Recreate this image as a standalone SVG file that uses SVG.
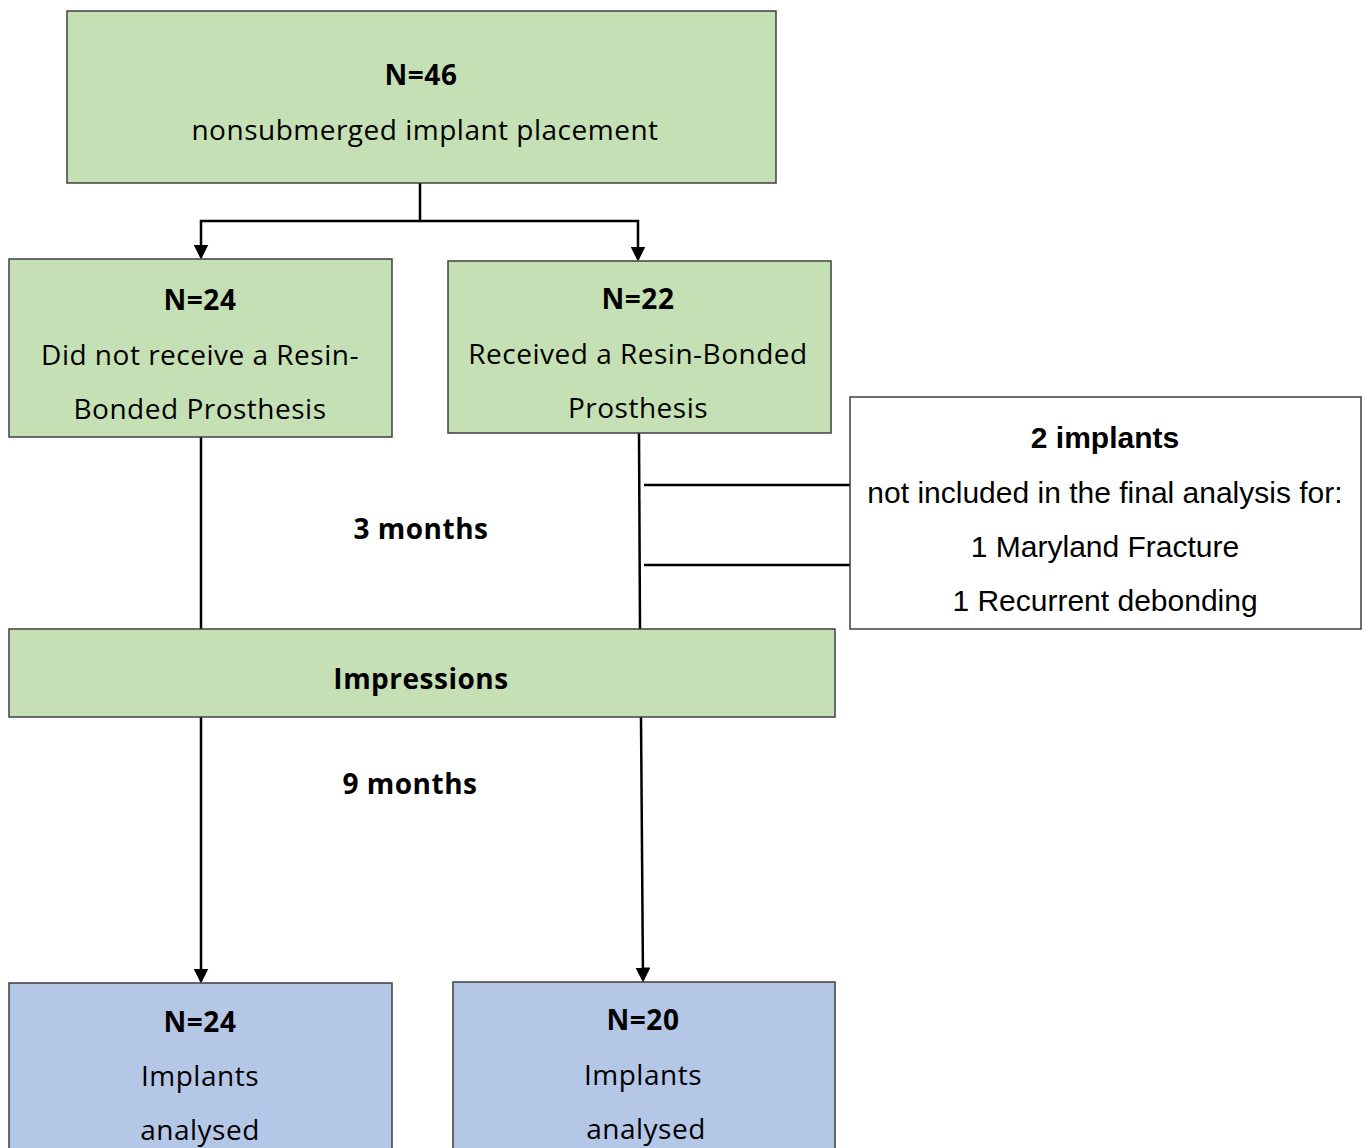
<svg xmlns="http://www.w3.org/2000/svg" width="1365" height="1148" viewBox="0 0 1365 1148">
<style>
.g{fill:#c5e0b4;stroke:#3f3f3f;stroke-width:1.5}
.b{fill:#b4c7e7;stroke:#3f3f3f;stroke-width:1.5}
.w{fill:#ffffff;stroke:#3f3f3f;stroke-width:1.5}
.t{font-family:"Open Sans","Liberation Sans",sans-serif;font-size:28px;letter-spacing:0.5px;fill:#000;text-anchor:middle}
.a{font-family:"Liberation Sans",Arial,sans-serif;font-size:30px;fill:#000;text-anchor:middle}
.bd{font-weight:bold}
.c{fill:none;stroke:#000;stroke-width:2.5}
</style>
<defs>
<marker id="ah" markerWidth="6" markerHeight="6" refX="5" refY="3" orient="auto" markerUnits="strokeWidth">
<path d="M0,0 L6,3 L0,6 z" fill="#000"/>
</marker>
</defs>
<rect width="1365" height="1148" fill="#fff"/>
<g id="connectors">
<path class="c" d="M420,183 V221 H201 V257" marker-end="url(#ah)"/>
<path class="c" d="M420,221 H638 V259" marker-end="url(#ah)"/>
<path class="c" d="M201,437 V629"/>
<path class="c" d="M639,433 L640,629"/>
<path class="c" d="M644,485 H850"/>
<path class="c" d="M644,565 H850"/>
<path class="c" d="M201,717 V981" marker-end="url(#ah)"/>
<path class="c" d="M641,717 L643,980" marker-end="url(#ah)"/>
</g>
<g id="n46">
<rect class="g" x="67" y="11" width="709" height="172"/>
<text class="t bd" x="421" y="85">N=46</text>
<text class="t" x="425" y="140">nonsubmerged implant placement</text>
</g>
<g id="n24a">
<rect class="g" x="9" y="259" width="383" height="178"/>
<text class="t bd" x="200" y="310">N=24</text>
<text class="t" x="200" y="365">Did not receive a Resin-</text>
<text class="t" x="200" y="419">Bonded Prosthesis</text>
</g>
<g id="n22">
<rect class="g" x="448" y="261" width="383" height="172"/>
<text class="t bd" x="638" y="309">N=22</text>
<text class="t" x="638" y="364">Received a Resin-Bonded</text>
<text class="t" x="638" y="418">Prosthesis</text>
</g>
<g id="excluded">
<rect class="w" x="850" y="397" width="511" height="232"/>
<text class="a bd" x="1105" y="448">2 implants</text>
<text class="a" x="1105" y="503">not included in the final analysis for:</text>
<text class="a" x="1105" y="557">1 Maryland Fracture</text>
<text class="a" x="1105" y="611">1 Recurrent debonding</text>
</g>
<g id="m3">
<text class="t bd" x="421" y="539">3 months</text>
</g>
<g id="impressions">
<rect class="g" x="9" y="629" width="826" height="88"/>
<text class="t bd" x="421" y="689">Impressions</text>
</g>
<g id="m9">
<text class="t bd" x="410" y="794">9 months</text>
</g>
<g id="n24b">
<rect class="b" x="9" y="983" width="383" height="175"/>
<text class="t bd" x="200" y="1032">N=24</text>
<text class="t" x="200" y="1086">Implants</text>
<text class="t" x="200" y="1140">analysed</text>
</g>
<g id="n20">
<rect class="b" x="453" y="982" width="382" height="176"/>
<text class="t bd" x="643" y="1030">N=20</text>
<text class="t" x="643" y="1085">Implants</text>
<text class="t" x="646" y="1139">analysed</text>
</g>
</svg>
